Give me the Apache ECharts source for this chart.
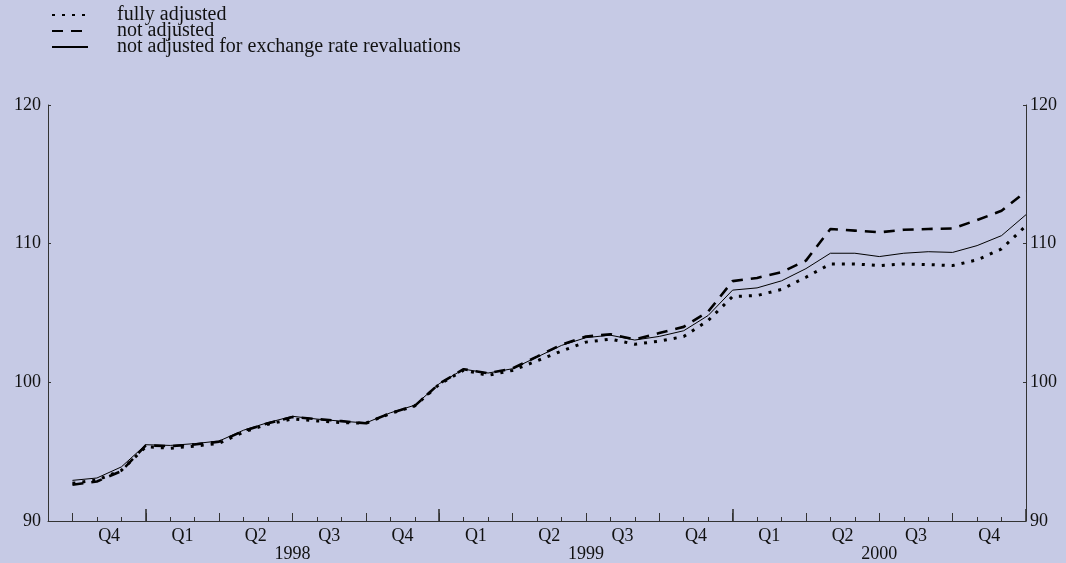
<!DOCTYPE html>
<html>
<head>
<meta charset="utf-8">
<script src="https://cdn.jsdelivr.net/npm/echarts@6/dist/echarts.min.js"></script>
<style>
html,body{margin:0;padding:0;background:#c6cae5;}
#c{width:1066px;height:563px;}
</style>
</head>
<body>
<div id="c"></div>
<script>
// Month boundaries (start of month), Sep 1997 .. Jan 2001
var boundaries = ['1997-09','1997-10','1997-11','1997-12',
  '1998-01','1998-02','1998-03','1998-04','1998-05','1998-06','1998-07','1998-08','1998-09','1998-10','1998-11','1998-12',
  '1999-01','1999-02','1999-03','1999-04','1999-05','1999-06','1999-07','1999-08','1999-09','1999-10','1999-11','1999-12',
  '2000-01','2000-02','2000-03','2000-04','2000-05','2000-06','2000-07','2000-08','2000-09','2000-10','2000-11','2000-12',
  '2001-01'];
// Months (for centred quarter labels), Sep 1997 .. Dec 2000
var months = boundaries.slice(0, 40);
var quarterLabels = ['Q4','Q1','Q2','Q3','Q4','Q1','Q2','Q3','Q4','Q1','Q2','Q3','Q4'];
var yearLabels = {'1998-07':'1998','1999-07':'1999','2000-07':'2000'};
var yTicks = [90, 100, 110, 120];

var notAdjExch = [92.93,93.10,93.90,95.50,95.45,95.58,95.77,96.55,97.10,97.55,97.35,97.20,97.07,97.80,98.35,99.90,
  100.95,100.67,100.98,101.82,102.66,103.22,103.40,103.05,103.31,103.72,104.82,106.65,106.81,107.32,108.20,
  109.31,109.31,109.07,109.31,109.42,109.37,109.86,110.58,112.09];
var notAdj = [92.62,92.85,93.60,95.45,95.40,95.52,95.72,96.50,97.05,97.50,97.35,97.20,97.05,97.78,98.30,99.90,
  100.95,100.65,101.00,101.85,102.72,103.30,103.47,103.10,103.55,104.00,105.10,107.30,107.53,107.94,108.78,
  111.06,110.94,110.82,111.00,111.06,111.10,111.70,112.37,113.76];
var fullyAdj = [92.72,92.95,93.65,95.35,95.25,95.40,95.60,96.42,96.98,97.36,97.22,97.10,97.05,97.75,98.30,99.85,
  100.88,100.50,100.86,101.55,102.25,102.90,103.12,102.75,102.97,103.30,104.46,106.19,106.26,106.70,107.58,
  108.54,108.54,108.42,108.54,108.49,108.42,108.83,109.62,111.29];

var FONT = "'Liberation Serif','DejaVu Serif',serif";
var AX = '#333';
var LBL = 18;

function lead(arr){ return [null].concat(arr); }

var baseX = {
  type: 'category', data: boundaries, boundaryGap: false, position: 'bottom',
  axisLine: {show: false}, axisLabel: {show: false}, splitLine: {show: false},
  axisTick: {show: false}
};
function clone(o){ return JSON.parse(JSON.stringify(o)); }

var x0 = clone(baseX);
x0.axisLine = {show: true, lineStyle: {color: AX, width: 1}};
x0.axisTick = {show: true, inside: true, length: 4, interval: 0, lineStyle: {color: AX, width: 1}};
x0.axisLabel = {show: true, interval: 0, margin: 24, fontFamily: FONT, fontSize: LBL, color: '#111',
  formatter: function(v){ return yearLabels[v] || ''; }};

var x1 = clone(baseX);
x1.axisTick = {show: true, inside: true, length: 8,
  interval: function(i){ return i % 3 === 1; }, lineStyle: {color: AX, width: 1}};

var x2 = clone(baseX);
x2.axisTick = {show: true, inside: true, length: 12,
  interval: function(i){ return i % 12 === 4; }, lineStyle: {color: AX, width: 1.6}};

var x3 = {
  type: 'category', data: months, boundaryGap: true, position: 'bottom',
  axisLine: {show: false}, axisTick: {show: false}, splitLine: {show: false},
  axisLabel: {show: true, interval: 0, margin: 6, fontFamily: FONT, fontSize: LBL, color: '#111',
    formatter: function(v, i){ return (i % 3 === 2) ? quarterLabels[(i - 2) / 3] : ''; }}
};

var yBase = function(pos){
  return {
    type: 'value', position: pos, min: yTicks[0], max: yTicks[yTicks.length-1], interval: 10,
    axisLine: {show: true, lineStyle: {color: AX, width: 1}},
    axisTick: {show: true, inside: true, length: 3, lineStyle: {color: AX}},
    splitLine: {show: false},
    axisLabel: {margin: pos === 'left' ? 7 : 4, fontFamily: FONT, fontSize: LBL, color: '#111'}
  };
};

var chart = echarts.init(document.getElementById('c'), null, {renderer: 'canvas'});
chart.setOption({
  backgroundColor: '#c6cae5',
  animation: false,
  grid: {left: 48, right: 40, top: 105, bottom: 42, containLabel: false},
  legend: {
    orient: 'vertical', left: 46, top: 0, itemGap: -4, itemWidth: 36, itemHeight: 14,
    itemStyle: {color: 'transparent', borderWidth: 0, opacity: 0},
    textStyle: {fontFamily: FONT, fontSize: 20, color: '#111', padding: [0,0,0,24]},
    data: ['fully adjusted', 'not adjusted', 'not adjusted for exchange rate revaluations']
  },
  xAxis: [x0, x1, x2, x3],
  yAxis: [yBase('left'), yBase('right')],
  series: [
    {name: 'fully adjusted', type: 'line', data: lead(fullyAdj), symbol: 'none', xAxisIndex: 0, yAxisIndex: 0,
      lineStyle: {color: '#000', width: 3, type: [3, 7]}, itemStyle: {color: '#000'}},
    {name: 'not adjusted', type: 'line', data: lead(notAdj), symbol: 'none', xAxisIndex: 0, yAxisIndex: 0,
      lineStyle: {color: '#000', width: 2.6, type: [11, 8]}, itemStyle: {color: '#000'}},
    {name: 'not adjusted for exchange rate revaluations', type: 'line', data: lead(notAdjExch), symbol: 'none',
      xAxisIndex: 0, yAxisIndex: 0, lineStyle: {color: '#000', width: 1}, itemStyle: {color: '#000'}}
  ]
});
</script>
</body>
</html>
